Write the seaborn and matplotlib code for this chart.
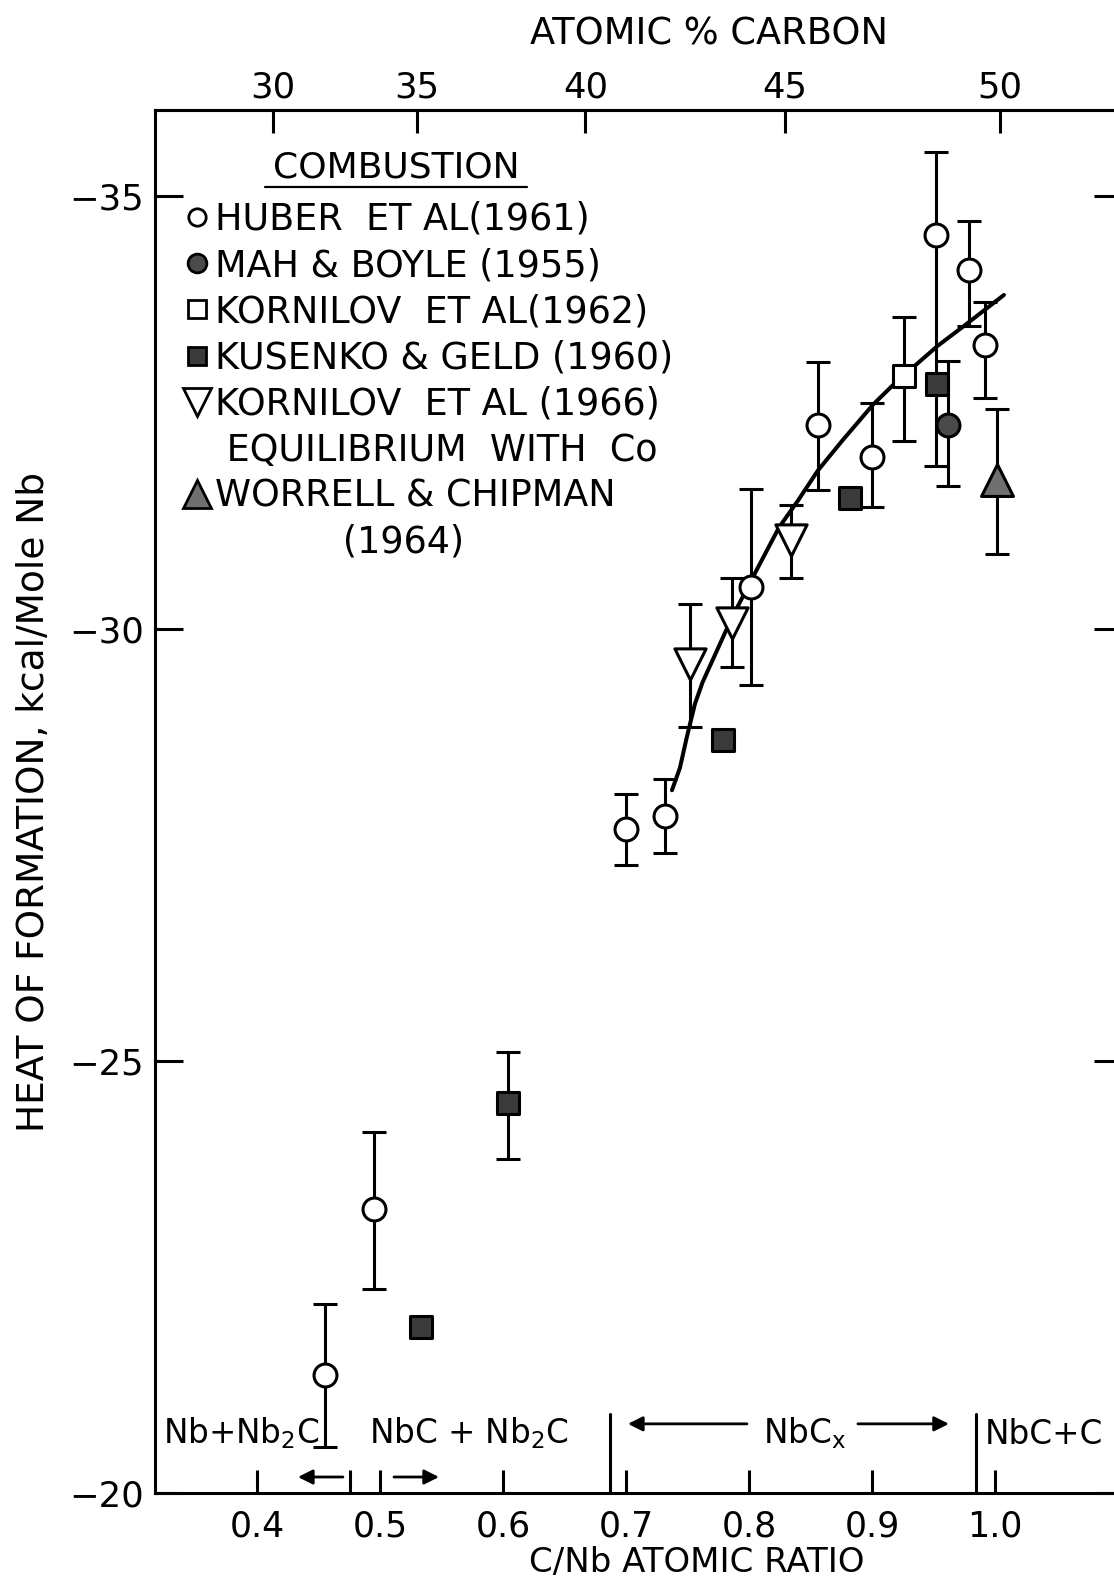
import matplotlib
matplotlib.use("Agg")
import matplotlib.pyplot as plt
from matplotlib.lines import Line2D
import numpy as np
import pandas as pd
import seaborn as sns

# ---------------- data: heat of formation of NbCx ----------------
# Huber et al. (1961), combustion
huber_x = [0.455, 0.495, 0.700, 0.732, 0.802, 0.856, 0.900, 0.952, 0.979, 0.992]
huber_y = [-21.36, -23.29, -27.68, -27.83, -30.48, -32.36, -31.98, -34.55, -34.15, -33.28]
huber_err_neg = [0.83, 0.89, 0.41, 0.43, 1.14, 0.73, 0.63, 0.96, 0.57, 0.50]   # toward more negative
huber_err_pos = [0.83, 0.93, 0.41, 0.43, 1.13, 0.76, 0.57, 2.67, 0.65, 0.61]   # toward less negative

# Mah & Boyle (1955)
mah_x = [0.962]
mah_y = [-32.36]
mah_err_neg = [0.74]
mah_err_pos = [0.71]

# Kornilov et al. (1962)
korn62_x = [0.926]
korn62_y = [-32.92]
korn62_err_neg = [0.69]
korn62_err_pos = [0.75]

# Kusenko & Geld (1960)
kus_x = [0.533, 0.604, 0.779, 0.882, 0.953]
kus_y = [-21.92, -24.51, -28.71, -31.51, -32.83]
kus_err_neg = [0.0, 0.59, 0.0, 0.0, 0.0]
kus_err_pos = [0.0, 0.65, 0.0, 0.0, 0.0]

# Kornilov et al. (1966), equilibrium with Co
korn66_x = [0.752, 0.786, 0.834]
korn66_y = [-29.59, -30.07, -31.02]
korn66_err_neg = [0.70, 0.51, 0.41]
korn66_err_pos = [0.73, 0.51, 0.44]

# Worrell & Chipman (1964)
worrell_x = [1.002]
worrell_y = [-31.72]
worrell_err_neg = [0.82]
worrell_err_pos = [0.86]

# smooth curve drawn through the NbCx data
curve_x = [0.7374, 0.7439, 0.7494, 0.7561, 0.7623, 0.7859, 0.8041, 0.8244, 0.8398,
           0.8561, 0.8756, 0.9008, 0.9187, 0.9533, 0.9756, 1.0073]
curve_y = [-28.13, -28.39, -28.74, -29.13, -29.38, -30.12, -30.62, -31.17, -31.48,
           -31.83, -32.17, -32.59, -32.84, -33.27, -33.51, -33.86]

# axis ticks
bottom_ticks = [0.4, 0.5, 0.6, 0.7, 0.8, 0.9, 1.0]
bottom_labels = ["0.4", "0.5", "0.6", "0.7", "0.8", "0.9", "1.0"]
top_tick_pos = [0.413, 0.530, 0.667, 0.829, 1.004]
top_labels = ["30", "35", "40", "45", "50"]
y_ticks = [-35, -30, -25, -20]

# phase boundaries (C/Nb)
boundary_minor = [0.476]
boundary_tall = [0.687, 0.985]

# ---------------- style ----------------
sns.set_theme(style="white")
plt.rcParams["font.family"] = ["DejaVu Sans"]
plt.rcParams["mathtext.default"] = "regular"
plt.rcParams["axes.unicode_minus"] = True

W, H = 1114, 1583
fig = plt.figure(figsize=(W / 100, H / 100), dpi=100)
fig.patch.set_facecolor("white")

left_px, right_px, top_px, bot_px = 155, 1122, 110, 1493
ax = fig.add_axes([left_px / W, 1 - bot_px / H,
                   (right_px - left_px) / W, (bot_px - top_px) / H])
ax.set_facecolor("white")

LW = 2.2
ax.set_xlim(0.3171, 1.1033)
ax.set_ylim(-20, -36.0)

for s in ax.spines.values():
    s.set_color("black")
    s.set_linewidth(LW)

# ---------------- error bars ----------------
eb_kw = dict(fmt="none", ecolor="black", elinewidth=LW, capsize=8.5, capthick=LW, zorder=2)
ax.errorbar(huber_x, huber_y, yerr=[huber_err_neg, huber_err_pos], **eb_kw)
ax.errorbar(mah_x, mah_y, yerr=[mah_err_neg, mah_err_pos], **eb_kw)
ax.errorbar(korn62_x, korn62_y, yerr=[korn62_err_neg, korn62_err_pos], **eb_kw)
kus_df = pd.DataFrame({"x": kus_x, "y": kus_y, "lo": kus_err_neg, "hi": kus_err_pos})
kus_eb = kus_df[(kus_df.lo > 0) | (kus_df.hi > 0)]
ax.errorbar(kus_eb.x, kus_eb.y, yerr=[kus_eb.lo, kus_eb.hi], **eb_kw)
ax.errorbar(korn66_x, korn66_y, yerr=[korn66_err_neg, korn66_err_pos], **eb_kw)
ax.errorbar(worrell_x, worrell_y, yerr=[worrell_err_neg, worrell_err_pos], **eb_kw)

# ---------------- fitted curve ----------------
sns.lineplot(x=curve_x, y=curve_y, sort=False, estimator=None, color="black",
             linewidth=2.9, ax=ax, zorder=2.5)

# ---------------- markers ----------------
def pts(x, y, marker, size, face):
    sns.scatterplot(x=x, y=y, marker=marker, s=size ** 2, color=face,
                    edgecolor="black", linewidth=LW, ax=ax, zorder=3, legend=False)

pts(huber_x, huber_y, "o", 16.5, "white")
pts(mah_x, mah_y, "o", 16.5, "#4a4a4a")
pts(korn62_x, korn62_y, "s", 16, "white")
pts(kus_x, kus_y, "s", 16, "#3a3a3a")
pts(korn66_x, korn66_y, "v", 22.5, "white")
pts(worrell_x, worrell_y, "^", 23, "#707070")

# ---------------- axes ticks ----------------
ax.set_xticks(bottom_ticks, labels=bottom_labels)
ax.set_xticks(boundary_minor, minor=True)
ax.set_yticks(y_ticks)
ax.tick_params(axis="x", which="both", direction="in", length=16.5, width=LW,
               pad=12, labelsize=25, colors="black", bottom=True, top=False)
ax.tick_params(axis="y", direction="in", length=20, width=LW, pad=8,
               labelsize=25.5, colors="black", left=True, right=True)

sec = ax.secondary_xaxis("top")
sec.set_xticks(top_tick_pos, labels=top_labels)
sec.tick_params(direction="in", length=16.5, width=LW, pad=4, labelsize=25.5, colors="black")
sec.spines["top"].set_linewidth(LW)
sec.set_xlabel("ATOMIC % CARBON", fontsize=26.5, labelpad=19, color="black",
               x=(709 - left_px) / (right_px - left_px), ha="center")

ax.set_xlabel("C/Nb ATOMIC RATIO", fontsize=24.5, color="black")
ax.xaxis.set_label_coords((697 - left_px) / (right_px - left_px),
                          -(1546 - bot_px) / (bot_px - top_px))
ax.set_ylabel("HEAT OF FORMATION, kcal/Mole Nb", fontsize=27, labelpad=12, color="black")

# ---------------- phase region annotations ----------------
for xb in boundary_tall:
    ax.axvline(xb, ymin=0, ymax=0.057, color="black", lw=LW, zorder=1)

ax.text(0.387, -20.57, "Nb+Nb$_2$C", ha="center", va="baseline", fontsize=23.5, color="black")
ax.text(0.5724, -20.57, "NbC + Nb$_2$C", ha="center", va="baseline", fontsize=23.5, color="black")
ax.text(0.8455, -20.57, "NbC$_x$", ha="center", va="baseline", fontsize=23.5, color="black")
ax.text(0.9919, -20.57, "NbC+C", ha="left", va="baseline", fontsize=23.5, color="black")

arrow = dict(arrowstyle="-|>", lw=2.0, color="black", mutation_scale=22, shrinkA=0, shrinkB=0)
ax.annotate("", xy=(0.7016, -20.80), xytext=(0.7984, -20.80), arrowprops=arrow)
ax.annotate("", xy=(0.9626, -20.80), xytext=(0.8886, -20.80), arrowprops=arrow)
ax.annotate("", xy=(0.4333, -20.185), xytext=(0.4699, -20.185), arrowprops=arrow)
ax.annotate("", xy=(0.5480, -20.185), xytext=(0.5114, -20.185), arrowprops=arrow)

# ---------------- legend ----------------
fig.text(396 / W, 1 - 168 / H, "COMBUSTION", ha="center", va="center", fontsize=26, color="black")
ax.axhline(-35.11, xmin=(265 - left_px) / (right_px - left_px),
           xmax=(527 - left_px) / (right_px - left_px), color="black", lw=1.6)

handles = [
    Line2D([], [], ls="none", marker="o", ms=12.5, mfc="white", mec="black", mew=2.0),
    Line2D([], [], ls="none", marker="o", ms=13.5, mfc="#4a4a4a", mec="black", mew=2.0),
    Line2D([], [], ls="none", marker="s", ms=13.5, mfc="white", mec="black", mew=2.0),
    Line2D([], [], ls="none", marker="s", ms=13.5, mfc="#3a3a3a", mec="black", mew=2.0),
    Line2D([], [], ls="none", marker="v", ms=20, mfc="white", mec="black", mew=2.0),
    Line2D([], [], ls="none"),
    Line2D([], [], ls="none", marker="^", ms=20, mfc="#707070", mec="black", mew=2.0),
    Line2D([], [], ls="none"),
]
labels = ["HUBER  ET AL(1961)", "MAH & BOYLE (1955)", "KORNILOV  ET AL(1962)",
          "KUSENKO & GELD (1960)", "KORNILOV  ET AL (1966)", " EQUILIBRIUM  WITH  Co",
          "WORRELL & CHIPMAN", "           (1964)"]
leg = ax.legend(handles, labels, loc="upper left", bbox_to_anchor=(183 / W, 1 - 201 / H),
                bbox_transform=fig.transFigure, frameon=False, fontsize=26.3,
                handlelength=0.78, handletextpad=0.09, labelspacing=0.25,
                borderpad=0, borderaxespad=0)
for t in leg.get_texts():
    t.set_color("black")

fig.savefig("out.png", dpi=100, facecolor="white")
